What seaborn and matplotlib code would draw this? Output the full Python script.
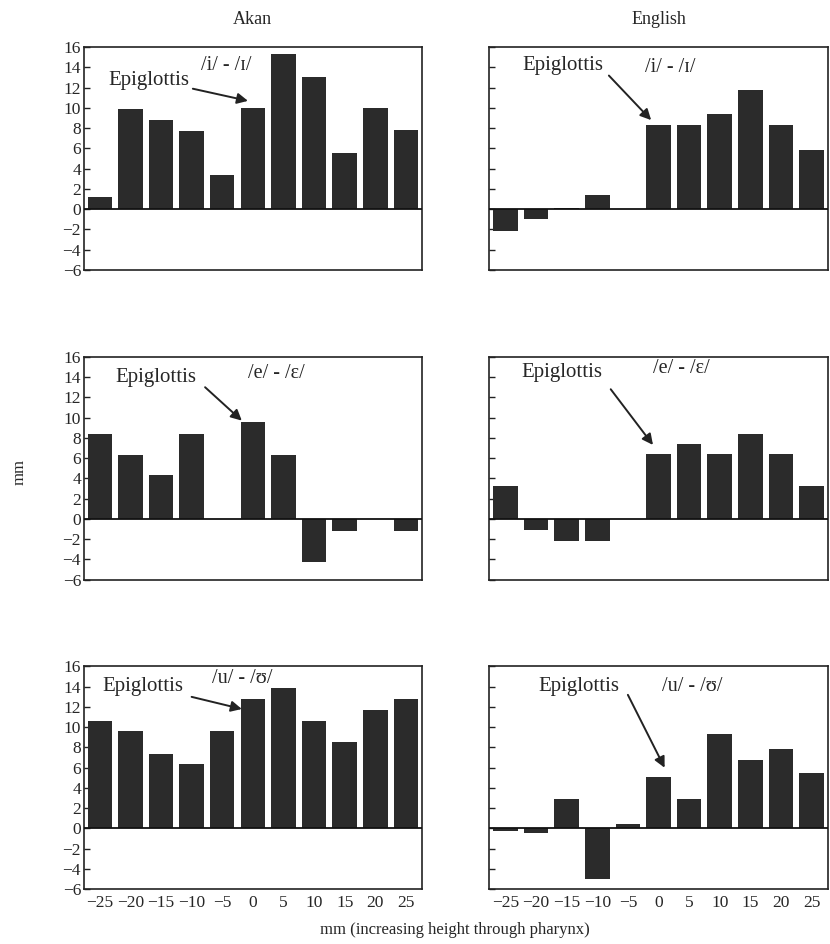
import numpy as np
import matplotlib
matplotlib.use('Agg')
import matplotlib.pyplot as plt
import seaborn as sns

# Positions along the pharynx (mm)
positions = [-25, -20, -15, -10, -5, 0, 5, 10, 15, 20, 25]

# Tongue root advancement differences (mm)
akan_i = [1.2, 9.9, 8.8, 7.7, 3.4, 10.0, 15.3, 13.1, 5.6, 10.0, 7.8]
english_i = [-2.2, -1.0, 0.15, 1.4, 0.0, 8.3, 8.3, 9.4, 11.8, 8.3, 5.8]
akan_e = [8.4, 6.3, 4.3, 8.4, 0.0, 9.6, 6.3, -4.3, -1.2, 0.0, -1.2]
english_e = [3.2, -1.1, -2.2, -2.2, 0.0, 6.4, 7.4, 6.4, 8.4, 6.4, 3.2]
akan_u = [10.6, 9.6, 7.4, 6.4, 9.6, 12.8, 13.9, 10.6, 8.5, 11.7, 12.8]
english_u = [-0.2, -0.4, 2.9, -5.0, 0.4, 5.1, 2.9, 9.3, 6.8, 7.9, 5.5]

languages = ['Akan', 'English']
vowel_labels = ['/i/ - /\u026a/', '/e/ - /\u025b/', '/u/ - /\u028a/']

# (text x, text y, arrow tail x, tail y, arrow head x, head y, vowel label x, y)
notes = [
    [(-17.0, 12.7, -9.8, 11.9, -0.8, 10.7, -4.3, 14.2),
     (-15.6, 14.2, -8.1, 13.2, -1.2, 8.8, 1.9, 14.0)],
    [(-15.8, 14.0, -7.8, 13.0, -1.8, 9.7, 3.9, 14.4),
     (-15.7, 14.5, -7.8, 12.8, -0.9, 7.3, 3.7, 14.8)],
    [(-18.0, 14.0, -10.0, 13.0, -1.8, 11.8, -1.8, 14.8),
     (-13.0, 14.0, -5.0, 13.2, 1.0, 6.0, 5.5, 14.0)],
]

data = [[akan_i, english_i], [akan_e, english_e], [akan_u, english_u]]

sns.set_style('white')
plt.rcParams['font.family'] = ['Liberation Serif', 'DejaVu Serif']
plt.rcParams['axes.unicode_minus'] = True

fig, axes = plt.subplots(3, 2, figsize=(8.3, 9.44), dpi=100)
fig.subplots_adjust(left=0.101, right=0.997, top=0.950, bottom=0.058,
                    wspace=0.20, hspace=0.39)

bar_color = '#2b2b2b'

for r in range(3):
    for c in range(2):
        ax = axes[r, c]
        sns.barplot(x=positions, y=data[r][c], ax=ax, native_scale=True,
                    color=bar_color, saturation=1, width=0.8, edgecolor='none')
        ax.axhline(0, color='#111111', lw=1.3, zorder=3)
        ax.set_xlim(-27.6, 27.6)
        ax.set_ylim(-6, 16)
        ax.set_yticks(np.arange(-6, 17, 2))
        ax.set_xticks(positions)
        ax.set_xticks(np.arange(-22.5, 23, 5), minor=True)
        ax.tick_params(axis='x', which='major', length=0, labelsize=12.5, pad=4)
        ax.tick_params(axis='x', which='minor', direction='in', length=4,
                       width=1.0, color='#222222')
        ax.tick_params(axis='y', direction='in', length=4, width=1.0,
                       labelsize=12.5, pad=2, color='#222222', left=True)
        for sp in ax.spines.values():
            sp.set_visible(True)
            sp.set_color('#222222')
            sp.set_linewidth(1.2)
        if c == 1:
            ax.set_yticklabels([])
        if r < 2:
            ax.set_xticklabels([])
        ax.set_xlabel('')
        ax.set_ylabel('')

        tx, ty, ax0, ay0, ax1, ay1, vx, vy = notes[r][c]
        ax.text(tx, ty, 'Epiglottis', ha='center', va='center', fontsize=15)
        ax.annotate('', xy=(ax1, ay1), xytext=(ax0, ay0),
                    arrowprops=dict(arrowstyle='-|>', color='#222222', lw=1.4,
                                    mutation_scale=16, shrinkA=0, shrinkB=0))
        ax.text(vx, vy, vowel_labels[r], ha='center', va='center', fontsize=14.5)

for c in range(2):
    axes[0, c].set_title(languages[c], fontsize=13, pad=17)

fig.text(0.024, 0.5, 'mm', rotation=90, ha='center', va='center', fontsize=12)
fig.text(0.548, 0.015, 'mm (increasing height through pharynx)',
         ha='center', va='center', fontsize=12)

fig.savefig('out.png', dpi=100)
